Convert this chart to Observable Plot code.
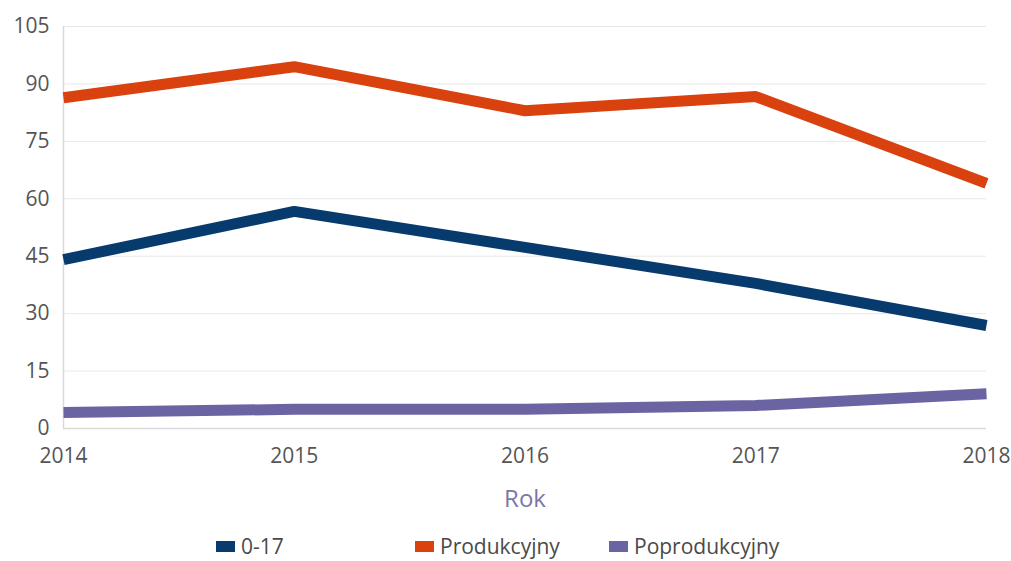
<!DOCTYPE html>
<html>
<head>
<meta charset="utf-8">
<script src="https://cdn.jsdelivr.net/npm/d3@7"></script>
<script src="https://cdn.jsdelivr.net/npm/@observablehq/plot@0.6"></script>
<style>
  body { margin: 0; background: #fff; font-family: "Open Sans", sans-serif; }
  #legend { height: 41px; font-size: 21px; color: #4a4a4a; position: relative; }
  .item { position: absolute; display: flex; align-items: center; top: 12px; line-height: 28px; }
  .sw { width: 19px; height: 11px; margin-right: 6px; }
</style>
</head>
<body>
<div id="chart"></div>
<div id="legend"></div>
<script>
const years = [2014, 2015, 2016, 2017, 2018];
const seriesNames = ["0-17", "Produkcyjny", "Poprodukcyjny"];
const seriesColors = ["#073b6d", "#d9420f", "#6b64a3"];
const values017 = [44.1, 56.7, 47.3, 37.9, 26.9];
const valuesProd = [86.4, 94.5, 83.0, 86.7, 64.0];
const valuesPoprod = [4.2, 5.0, 5.0, 6.0, 9.1];
const yTicks = [0, 15, 30, 45, 60, 75, 90, 105];
const xLabel = "Rok";

const allValues = [values017, valuesProd, valuesPoprod];
const data = [];
seriesNames.forEach((s, i) => years.forEach((y, j) => data.push({series: s, year: y, value: allValues[i][j]})));

const chart = Plot.plot({
  width: 1011,
  height: 520,
  marginLeft: 63,
  marginRight: 25,
  marginTop: 26,
  marginBottom: 92,
  style: {fontFamily: "Open Sans, sans-serif", fontSize: "21px", color: "#555", background: "#fff"},
  x: {domain: [2014, 2018]},
  y: {domain: [0, 105]},
  color: {domain: seriesNames, range: seriesColors},
  marks: [
    Plot.gridY(yTicks, {stroke: "#e8e8e8", strokeOpacity: 1}),
    Plot.ruleX([2014], {stroke: "#d9d9d9", strokeWidth: 1.5}),
    Plot.ruleY([0], {stroke: "#d9d9d9", strokeWidth: 1.5}),
    Plot.axisY({ticks: yTicks, tickSize: 0, tickPadding: 14, label: null}),
    Plot.axisX({ticks: years, tickFormat: "d", tickSize: 0, tickPadding: 20, label: null}),
    Plot.line(data, {x: "year", y: "value", z: "series", stroke: "series", strokeWidth: 11, strokeLinejoin: "miter", strokeLinecap: "butt"}),
    Plot.text([xLabel], {frameAnchor: "bottom", dy: 78, text: d => d, fill: "#7b78a8", fontSize: 24})
  ]
});
document.getElementById("chart").appendChild(chart);

const legend = document.getElementById("legend");
const lefts = [216, 415, 609];
seriesNames.forEach((s, i) => {
  const it = document.createElement("div");
  it.className = "item";
  it.style.left = lefts[i] + "px";
  it.innerHTML = `<div class="sw" style="background:${seriesColors[i]}"></div><span>${s}</span>`;
  legend.appendChild(it);
});
</script>
</body>
</html>
